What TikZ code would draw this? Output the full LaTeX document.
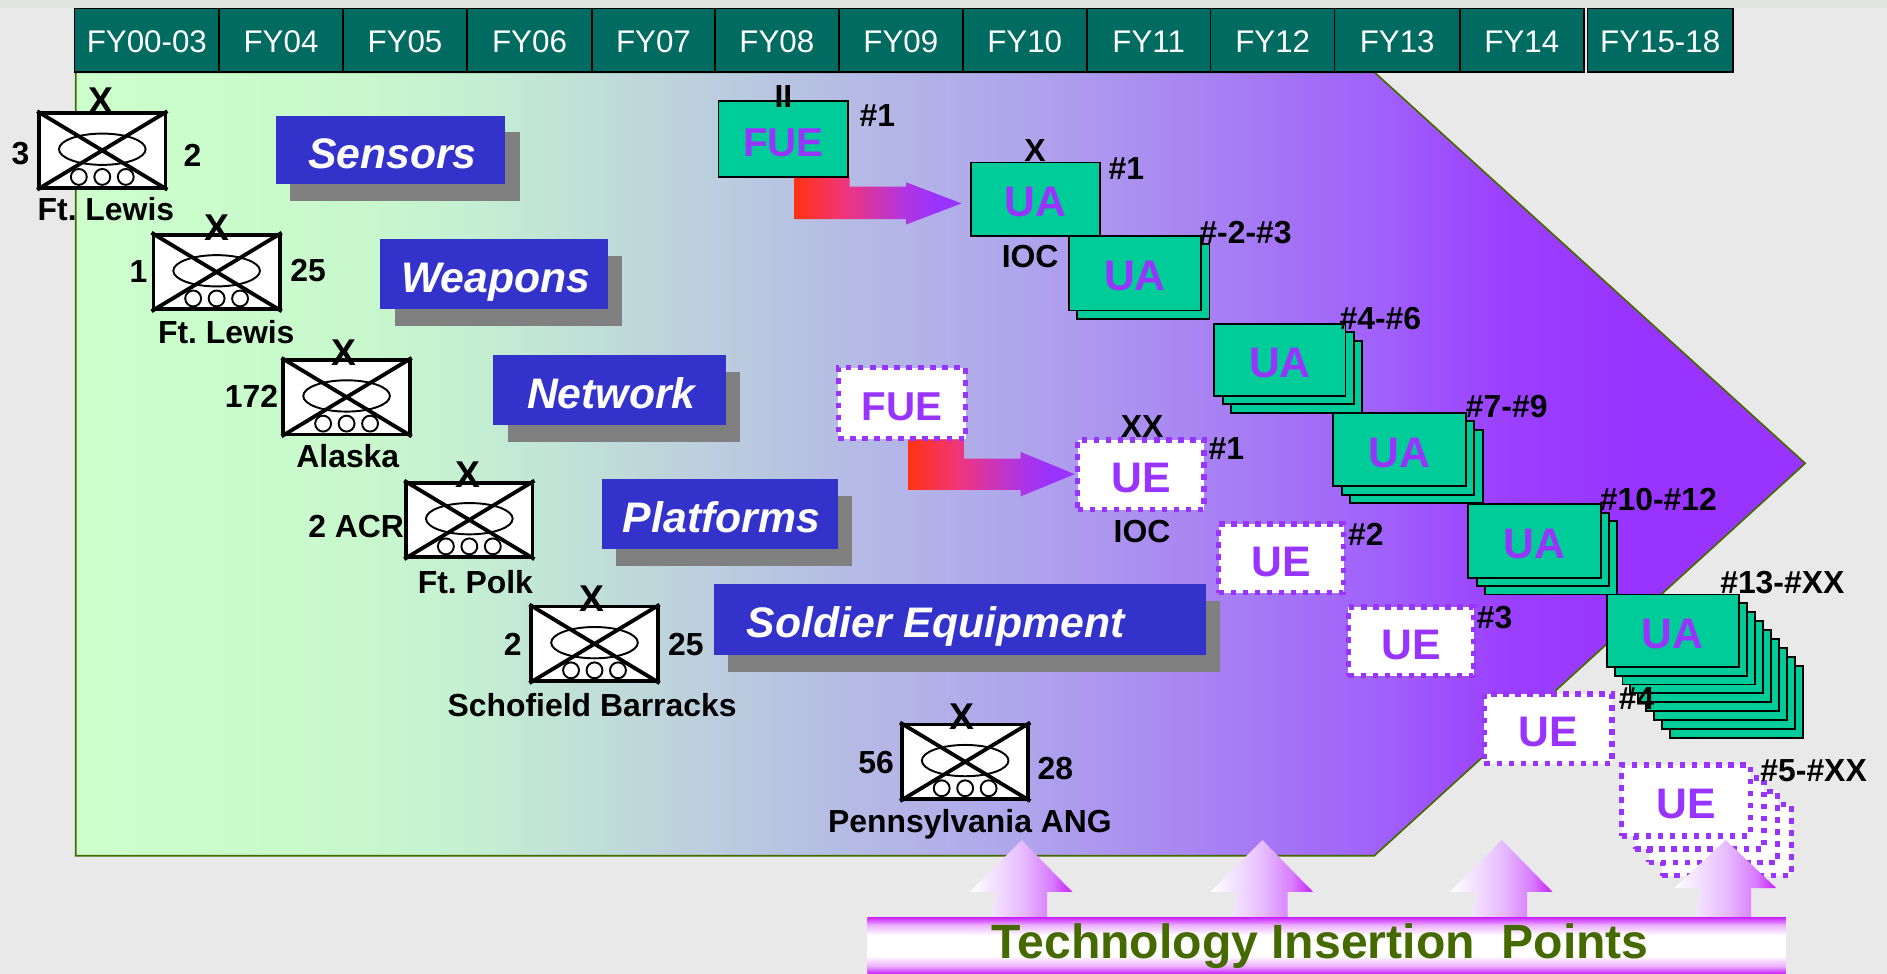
\documentclass[tikz,border=0pt]{standalone}
\usepackage{fontspec}
\setmainfont{Liberation Sans}
\frenchspacing
\definecolor{pagegray}{HTML}{E9E9E9}
\definecolor{topgray}{HTML}{E2E4E2}
\definecolor{teal1}{HTML}{006B60}
\definecolor{olive1}{HTML}{456B00}
\definecolor{banner}{HTML}{3333CC}
\definecolor{shadow1}{HTML}{808080}
\definecolor{ugreen}{HTML}{00CC99}
\definecolor{upurple}{HTML}{9933FF}
\definecolor{mag}{HTML}{C81EFF}
\definecolor{redarrow}{HTML}{FF3311}
\definecolor{pa}{HTML}{CCFFCC}
\definecolor{pb}{HTML}{C8F8CC}
\definecolor{pc}{HTML}{C4EED2}
\definecolor{pd}{HTML}{BDD3DC}
\definecolor{pe}{HTML}{B5BCE4}
\definecolor{pf}{HTML}{AFA5EC}
\definecolor{pg}{HTML}{A883F2}
\definecolor{ph}{HTML}{A060FA}
\definecolor{pi}{HTML}{9B40FF}
\definecolor{ra}{HTML}{F0357A}
\definecolor{rb}{HTML}{B035E0}
\definecolor{ua}{HTML}{E6BEFF}
\definecolor{ub}{HTML}{D87CFF}
\pgfdeclarehorizontalshading{pentshade}{100bp}{color(0bp)=(pa);color(25bp)=(pa);color(33.2bp)=(pb);color(36.7bp)=(pc);color(42.3bp)=(pd);color(47.2bp)=(pe);color(52.4bp)=(pf);color(57.6bp)=(pg);color(62.8bp)=(ph);color(66.3bp)=(pi);color(70bp)=(upurple);color(100bp)=(upurple)}
\pgfdeclarehorizontalshading{redshade}{100bp}{color(0bp)=(redarrow);color(25bp)=(redarrow);color(40bp)=(ra);color(58bp)=(rb);color(68bp)=(upurple);color(100bp)=(upurple)}
\pgfdeclarehorizontalshading{upshade}{100bp}{color(0bp)=(white);color(25bp)=(white);color(50bp)=(ua);color(65bp)=(ub);color(75bp)=(mag);color(100bp)=(mag)}
\colorlet{magl}{mag!35!white}
\pgfdeclareverticalshading{barshade}{100bp}{color(0bp)=(mag);color(25bp)=(mag);color(32bp)=(magl);color(41bp)=(white);color(59bp)=(white);color(68bp)=(magl);color(75bp)=(mag);color(100bp)=(mag)}
\tikzset{
  fy/.style={draw=black,line width=1.3pt,fill=teal1,text=white,inner sep=0pt,font=\fontsize{26}{28}\selectfont,text height=20.7pt,text depth=0pt},
  lab/.style={inner sep=0pt,text=black,font=\bfseries\fontsize{26.5}{28}\selectfont,text height=19pt,text depth=0pt},
  bigx/.style={lab,font=\bfseries\fontsize{31}{32}\selectfont,text height=22pt},
  bdebox/.style={draw=black,line width=3.2pt,fill=white,inner sep=0pt,minimum width=105pt,minimum height=62pt},
  bdecross/.style={draw=black,line width=3.2pt},
  bdethin/.style={draw=black,line width=1.6pt},
  ban/.style={fill=banner,text=white,inner sep=0pt,font=\bfseries\itshape\fontsize{35.5}{38}\selectfont,text height=30.5pt,text depth=0pt,xshift=0pt},
  banshadow/.style={fill=shadow1,inner sep=0pt},
  unitbox/.style={draw=black,line width=1.6pt,fill=ugreen,text=upurple,inner sep=0pt,font=\bfseries\fontsize{35.5}{40}\selectfont,text height=29.5pt,text depth=0pt},
  uebox/.style={draw=upurple,line width=4.5pt,dash pattern=on 4.5pt off 5.5pt,fill=white,text=upurple,inner sep=0pt,font=\bfseries\fontsize{35.5}{40}\selectfont,text height=29.5pt,text depth=0pt},
  outline/.style={draw=olive1,line width=1.4pt},
}
% rectangular node from its corners
\newcommand\rnode[7][]{\node[#6,#1,minimum width={((#4)-(#2))*1pt},minimum height={((#5)-(#3))*1pt}] at ({((#2)+(#4))/2},{((#3)+(#5))/2}) {#7};}
% brigade symbol
\newcommand\bde[3]{%
  \node[bdebox] (#1) at (#2,#3) {};
  \draw[bdethin] (#2,#3-1) ellipse [x radius=36pt,y radius=13pt];
  \draw[bdethin] (#2-19.5,#3+22) circle [radius=6.6pt] (#2,#3+22) circle [radius=6.6pt] (#2+19.5,#3+22) circle [radius=6.6pt];
  \draw[bdecross] (#1.north west)--(#1.south east) (#1.north east)--(#1.south west);
}
% banner with shadow
\newcommand\banner[6]{%
  \rnode[name=#1s]{#2+12}{#3+14}{#4+12}{#5+14}{banshadow}{}
  \rnode[name=#1]{#2}{#3}{#4}{#5}{ban}{\hspace*{3pt}#6}
}
% stack of unit boxes: name,x1,y1,x2,y2,list of copies,step x,step y,style
\newcommand\ustack[9]{%
  \foreach \k in {#6}{%
    \rnode[name=#1b\k]{#2+\k*#7}{#3+\k*#8}{#4+\k*#7}{#5+\k*#8}{#9}{}
  }
}
\newcommand\fuefont{\fontsize{33.5}{40}\selectfont}
\begin{document}
\begin{tikzpicture}[x=1pt,y=-1pt]
\useasboundingbox (0,0) rectangle (1568,809.3);
\fill[pagegray] (0,0) rectangle (1568,809.3);
\fill[topgray] (0,0) rectangle (1568,7);
% pentagon
\coordinate (pA) at (63,60); \coordinate (pB) at (1142,60); \coordinate (pC) at (1500,385);
\coordinate (pD) at (1142,711); \coordinate (pE) at (63,711);
\shade[shading=pentshade] (pA)--(pB)--(pC)--(pD)--(pE)--cycle;
\draw[outline] (pA)--(pB)--(pC)--(pD)--(pE)--cycle;
% header
\rnode[name=fy1]{62}{7}{182}{60}{fy}{FY00-03}
\rnode[name=fy2]{182}{7}{285}{60}{fy}{FY04}
\rnode[name=fy3]{285}{7}{388}{60}{fy}{FY05}
\rnode[name=fy4]{388}{7}{492}{60}{fy}{FY06}
\rnode[name=fy5]{492}{7}{594}{60}{fy}{FY07}
\rnode[name=fy6]{594}{7}{697}{60}{fy}{FY08}
\rnode[name=fy7]{697}{7}{800}{60}{fy}{FY09}
\rnode[name=fy8]{800}{7}{903}{60}{fy}{FY10}
\rnode[name=fy9]{903}{7}{1006}{60}{fy}{FY11}
\rnode[name=fy10]{1006}{7}{1109}{60}{fy}{FY12}
\rnode[name=fy11]{1109}{7}{1213}{60}{fy}{FY13}
\rnode[name=fy12]{1213}{7}{1316}{60}{fy}{FY14}
\rnode[name=fy13]{1319}{7}{1440}{60}{fy}{FY15-18}
% banners
\banner{b1}{229}{96}{420}{153}{Sensors}
\banner{b2}{316}{199}{505}{257}{Weapons}
\banner{b3}{410}{295}{603}{353}{Network}
\banner{b4}{500}{398}{696}{456}{Platforms}
\banner{b5}{593}{485}{1002}{544}{\hspace*{-43pt}Soldier Equipment}
% brigades
\bde{g1}{85}{125}
\node[bigx] (g1x) at (84,83) {X};
\node[lab] (g1l) at (17,127) {3};
\node[lab] (g1r) at (160,129) {2};
\node[lab] (g1n) at (88,174) {Ft. Lewis};
\bde{g2}{180}{226}
\node[bigx] (g2x) at (180,189) {X};
\node[lab] (g2l) at (115,225) {1};
\node[lab] (g2r) at (256,224) {25};
\node[lab] (g2n) at (188,276) {Ft. Lewis};
\bde{g3}{288}{330}
\node[bigx] (g3x) at (286,293) {X};
\node[lab] (g3l) at (209,329) {172};
\node[lab] (g3n) at (289,379) {Alaska};
\bde{g4}{390}{432}
\node[bigx] (g4x) at (389,394) {X};
\node[lab] (g4l) at (296,437) {2 ACR};
\node[lab] (g4n) at (395,484) {Ft. Polk};
\bde{g5}{494}{535}
\node[bigx] (g5x) at (492,497) {X};
\node[lab] (g5l) at (426,535) {2};
\node[lab] (g5r) at (570,535) {25};
\node[lab] (g5n) at (492,586) {Schofield Barracks};
\bde{g6}{802}{633}
\node[bigx] (g6x) at (799,595) {X};
\node[lab] (g6l) at (728,633) {56};
\node[lab] (g6r) at (877,638) {28};
\node[lab] (g6n) at (806,682) {Pennsylvania ANG};
% red arrows
\coordinate (a1tip) at (799,169);
\coordinate (a2tip) at (893,394);
\shade[shading=redshade] (660,147)--(706,147)--(706,155)--(753,155)--(753,151.5)--(a1tip)--(753,186.5)--(753,182)--(660,182)--cycle;
\shade[shading=redshade] (755,365)--(801,365)--(801,381)--(848,381)--(848,375.5)--(a2tip)--(848,412.5)--(848,407)--(755,407)--cycle;
% solid units
\rnode[name=fue1]{597}{84}{705}{147}{unitbox}{\fuefont FUE}
\node[lab] (fue1x) at (651,80) {II};
\node[lab] (fue1n) at (729,96) {\#1};
\rnode[name=ua1]{807}{135}{914}{196}{unitbox}{UA}
\node[lab] (ua1x) at (860,125) {X};
\node[lab] (ua1n) at (936,140) {\#1};
\node[lab] (ua1i) at (856,213) {IOC};
\ustack{s2}{888}{196}{998}{258}{1}{7}{7}{unitbox}
\rnode[name=ua2]{888}{196}{998}{258}{unitbox}{UA}
\node[lab] (ua2n) at (1035,193) {\#-2-\#3};
\ustack{s3}{1009}{269}{1118}{329}{2,1}{7}{7}{unitbox}
\rnode[name=ua3]{1009}{269}{1118}{329}{unitbox}{UA}
\node[lab] (ua3n) at (1147,264) {\#4-\#6};
\ustack{s4}{1108}{343}{1218}{404}{2,1}{7}{7}{unitbox}
\rnode[name=ua4]{1108}{343}{1218}{404}{unitbox}{UA}
\node[lab] (ua4n) at (1252,337) {\#7-\#9};
\ustack{s5}{1220}{419}{1330}{480}{2,1}{7}{7}{unitbox}
\rnode[name=ua5]{1220}{419}{1330}{480}{unitbox}{UA}
\node[lab] (ua5n) at (1378,415) {\#10-\#12};
\ustack{s6}{1335}{494}{1445}{554}{8,7,6,5,4,3,2,1}{6.6}{7.4}{unitbox}
\rnode[name=ua6]{1335}{494}{1445}{554}{unitbox}{UA}
\node[lab] (ua6n) at (1481,484) {\#13-\#XX};
% dotted units
\rnode[name=fue2]{696.5}{305.5}{802.5}{364.5}{uebox}{\fuefont FUE}
\rnode[name=ue1]{895.5}{365.5}{1000.5}{423.5}{uebox}{UE}
\node[lab] (ue1x) at (949,354) {XX};
\node[lab] (ue1n) at (1019,372) {\#1};
\node[lab] (ue1i) at (949,441) {IOC};
\rnode[name=ue2]{1012.5}{435.5}{1116.5}{492.5}{uebox}{UE}
\node[lab] (ue2n) at (1135,444) {\#2};
\rnode[name=ue3]{1120.5}{504.5}{1224.5}{561.5}{uebox}{UE}
\node[lab] (ue3n) at (1242,513) {\#3};
\rnode[name=ue4]{1233.5}{576.5}{1339.5}{634.5}{uebox}{UE}
\node[lab] (ue4n) at (1360,580) {\#4};
\ustack{s7}{1347.5}{635.5}{1454.5}{694.5}{3,2,1}{11.3}{11}{uebox}
\rnode[name=ue5]{1347.5}{635.5}{1454.5}{694.5}{uebox}{UE}
\node[lab] (ue5n) at (1507,640) {\#5-\#XX};
% insertion arrows
\foreach \cx/\by in {849/741,1049/741,1248/741,1434/738}{
  \shade[shading=upshade] (\cx,698)--(\cx+42,\by)--(\cx+21,\by)--(\cx+21,762)--(\cx-25,762)--(\cx-21,\by)--(\cx-43,\by)--cycle;
}
% bar
\shade[shading=barshade] (721,762) rectangle (1484,809.3);
\node[inner sep=0pt,text=olive1,font=\bfseries\fontsize{40}{42}\selectfont,text height=28.6pt,text depth=0pt] (tip) at (1097,782) {Technology Insertion\ \ Points};
\end{tikzpicture}
\end{document}
